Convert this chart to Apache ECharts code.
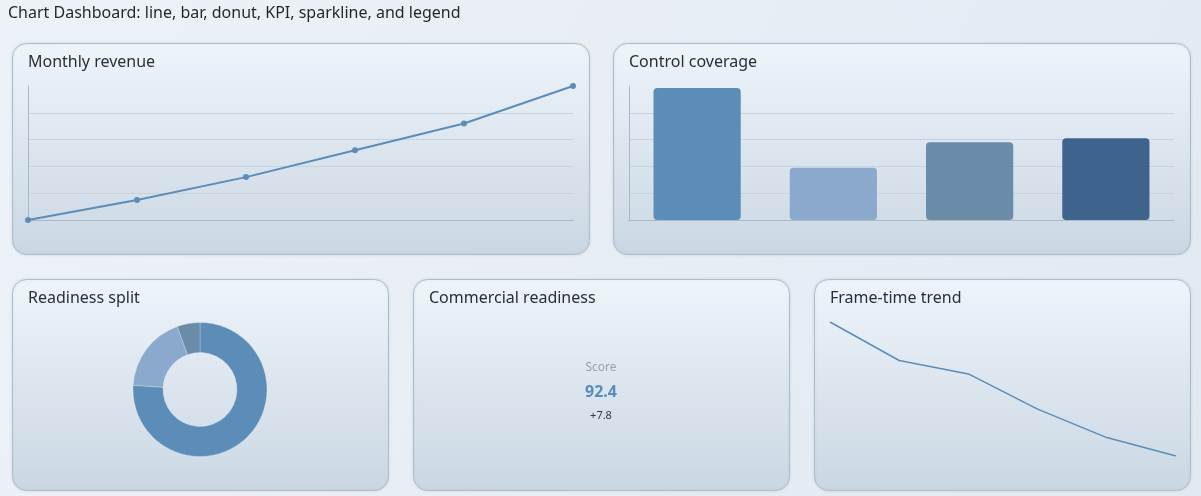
<!DOCTYPE html>
<html>
<head>
<meta charset="utf-8">
<script src="https://cdn.jsdelivr.net/npm/echarts@6/dist/echarts.min.js"></script>
<style>
html,body{margin:0;padding:0;background:#e8eef5;}
#c{width:1201px;height:496px;}
</style>
</head>
<body>
<div id="c"></div>
<script>
// ---- data ----
const revenueMonths = ['Jan','Feb','Mar','Apr','May','Jun'];
const revenueValues = [100, 115, 132, 152, 172, 200];

const coverageCategories = ['Access','Audit','Backup','Network'];
const coverageValues = [98.5, 39, 58, 61];

const splitNames = ['Ready','Partial','Blocked'];
const splitValues = [76, 18.5, 5.5];

const kpiLabel = 'Score';
const kpiValue = '92.4';
const kpiDelta = '+7.8';

const frameLabels = ['1','2','3','4','5','6'];
const frameValues = [24.0, 21.7, 20.9, 18.8, 17.1, 16.0];

// ---- styles ----
const FONT = '"Noto Sans", "Open Sans", sans-serif';
const C1 = '#5b8db8', C2 = '#8aa9cc', C3 = '#6b8ca9', C4 = '#3e648e';
const cardFill = new echarts.graphic.LinearGradient(0,0,0,1,[
  {offset:0,color:'#eef4fa'},{offset:1,color:'#cad7e3'}]);
function card(x,y,w,h){
  return {type:'rect', z:-10, silent:true,
    shape:{x:x+0.5,y:y+0.5,width:w,height:h,r:14},
    style:{fill:cardFill, stroke:'#aebdcc', lineWidth:1, shadowBlur:3, shadowColor:'rgba(60,80,110,0.12)'}};
}
const cards = [[12,43,577,211],[613,43,577,211],[12,279,376,211],[413,279,376,211],[814,279,376,211]];

const titleStyle = {fontFamily:FONT, fontSize:16, fontWeight:'normal', color:'#26303b'};
const chart = echarts.init(document.getElementById('c'), null, {renderer:'canvas'});

chart.setOption({
  backgroundColor: new echarts.graphic.LinearGradient(0,0,1,1,[
    {offset:0,color:'#edf2f8'},{offset:1,color:'#e2e9f0'}]),
  animation:false,
  title:[
    {text:'Chart Dashboard: line, bar, donut, KPI, sparkline, and legend', left:8, top:5, padding:0,
      textStyle:{fontFamily:FONT, fontSize:16, fontWeight:'normal', color:'#1e2630'}},
    {text:'Monthly revenue', left:28, top:54, padding:0, textStyle:titleStyle},
    {text:'Control coverage', left:629, top:54, padding:0, textStyle:titleStyle},
    {text:'Readiness split', left:28, top:290, padding:0, textStyle:titleStyle},
    {text:'Commercial readiness', left:429, top:290, padding:0, textStyle:titleStyle},
    {text:'Frame-time trend', left:830, top:290, padding:0, textStyle:titleStyle}
  ],
  graphic:[
    ...cards.map(c=>card(...c)),
    {type:'text', z:5, style:{text:kpiLabel, x:601, y:368, textAlign:'center', textVerticalAlign:'middle', fontFamily:FONT, fontSize:12, fill:'#9aa3ad'}},
    {type:'text', z:5, style:{text:kpiValue, x:601, y:392, textAlign:'center', textVerticalAlign:'middle', fontFamily:FONT, fontSize:16, fontWeight:'bold', fill:C1}},
    {type:'text', z:5, style:{text:kpiDelta, x:601, y:416, textAlign:'center', textVerticalAlign:'middle', fontFamily:FONT, fontSize:11, fill:'#333a42'}}
  ],
  grid:[
    {left:28, top:86, width:545, height:134},
    {left:629, top:86, width:545, height:134},
    {left:830, top:322, width:346, height:134}
  ],
  xAxis:[
    {gridIndex:0, type:'category', data:revenueMonths, boundaryGap:false,
      axisLine:{lineStyle:{color:'#a9b8c8'}}, axisTick:{show:false}, axisLabel:{show:false}},
    {gridIndex:1, type:'category', data:coverageCategories,
      axisLine:{lineStyle:{color:'#a9b8c8'}}, axisTick:{show:false}, axisLabel:{show:false}},
    {gridIndex:2, type:'category', data:frameLabels, boundaryGap:false, show:false}
  ],
  yAxis:[
    {gridIndex:0, type:'value', min:100, max:200, interval:20,
      axisLine:{show:true, lineStyle:{color:'#a9b8c8'}}, axisTick:{show:false}, axisLabel:{show:false},
      splitLine:{showMaxLine:false, lineStyle:{color:'#c6d2dd'}}},
    {gridIndex:1, type:'value', min:0, max:100, interval:20,
      axisLine:{show:true, lineStyle:{color:'#a9b8c8'}}, axisTick:{show:false}, axisLabel:{show:false},
      splitLine:{showMaxLine:false, lineStyle:{color:'#c6d2dd'}}},
    {gridIndex:2, type:'value', min:'dataMin', max:'dataMax', show:false}
  ],
  series:[
    {type:'line', xAxisIndex:0, yAxisIndex:0, data:revenueValues,
      symbol:'circle', symbolSize:6, lineStyle:{color:C1, width:2}, itemStyle:{color:C1}},
    {type:'bar', xAxisIndex:1, yAxisIndex:1, barCategoryGap:'36%',
      data:coverageValues.map((v,i)=>({value:v, itemStyle:{color:[C1,C2,C3,C4][i]}})),
      itemStyle:{borderRadius:4}},
    {type:'pie', center:[200,389.5], radius:[37,67], startAngle:90, clockwise:true,
      label:{show:false}, labelLine:{show:false},
      itemStyle:{borderColor:'rgba(230,238,246,0.6)', borderWidth:0.5},
      data:splitNames.map((n,i)=>({name:n, value:splitValues[i], itemStyle:{color:[C1,C2,C3][i]}}))},
    {type:'line', xAxisIndex:2, yAxisIndex:2, data:frameValues, symbol:'none',
      lineStyle:{color:C1, width:1.5}}
  ]
});
</script>
</body>
</html>
